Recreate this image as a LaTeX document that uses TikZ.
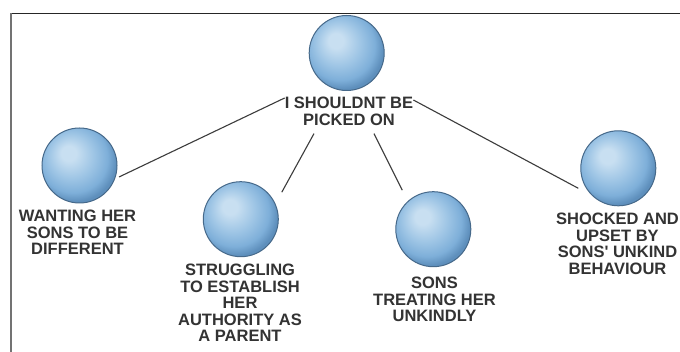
\documentclass[tikz,border=0pt]{standalone}
\usepackage{fontspec}
\setmainfont{Liberation Sans}
\usetikzlibrary{calc}

% glossy blue ball used for every idea
\definecolor{ballhi}{HTML}{C8DFF1}
\definecolor{ballmid}{HTML}{9EC5E5}
\definecolor{ballbase}{HTML}{7EAFD9}
\definecolor{balledge}{HTML}{5E8FBC}
\definecolor{ballrim}{HTML}{46698A}
\definecolor{inkgray}{HTML}{333333}
\definecolor{wiregray}{HTML}{3C3C3C}
\pgfdeclareradialshading{glossball}{\pgfpoint{-8bp}{9bp}}{%
  color(0bp)=(ballhi); color(5bp)=(ballhi); color(15bp)=(ballmid);
  color(23bp)=(ballbase); color(28bp)=(balledge); color(50bp)=(balledge)}

\tikzset{
  ball/.style={circle, minimum size=75pt, inner sep=0pt, shade, shading=glossball,
    draw=ballrim, line width=1pt},
  caption/.style={anchor=north, inner sep=0pt, align=center, text=inkgray,
    font=\fontsize{16.5}{16.5}\selectfont\bfseries},
  wire/.style={draw=wiregray, line width=1.1pt},
}

\begin{document}
\begin{tikzpicture}[x=1pt, y=-1pt]
\useasboundingbox (0,0) rectangle (680,352);
\fill[white] (0,0) rectangle (680,352);

% frame edges
\draw[draw=black!85, line width=1.3pt] (10.5,13.5) -- (680,13.5);
\draw[draw=black!55, line width=1.6pt] (11,13.5) -- (11,352);

% ideas
\node[ball] (s0) at (346.7,53) {};
\node[ball] (s1) at (79.5,165.5) {};
\node[ball] (s2) at (240.8,219.2) {};
\node[ball] (s3) at (433.3,229.2) {};
\node[ball] (s4) at (618.3,168.3) {};

\node[caption] (l0) at (349,97) {I SHOULDNT BE\\PICKED ON};
\node[caption] (l1) at (77.5,210) {WANTING HER\\SONS TO BE\\DIFFERENT};
\node[caption] (l2) at (240,264) {STRUGGLING\\TO ESTABLISH\\HER\\AUTHORITY AS\\A PARENT};
\node[caption] (l3) at (434.5,277) {SONS\\TREATING HER\\UNKINDLY};
\node[caption] (l4) at (617.5,213) {SHOCKED AND\\UPSET BY\\SONS\textquotesingle\ UNKIND\\BEHAVIOUR};

% loose ends of the links, next to each ball
\coordinate (e1) at ($(s1.center)+(39.5,11.5)$);
\coordinate (e2) at ($(s2.center)+(41,-27)$);
\coordinate (e3) at ($(s3.center)+(-31,-39)$);
\coordinate (e4) at ($(s4.center)+(-40,20)$);

% links from the central statement
\draw[wire] ($(l0.north west)+(0,1)$) -- (e1);
\draw[wire] ($(l0.south)+(-35,8)$) -- (e2);
\draw[wire] ($(l0.south)+(25,8)$) -- (e3);
\draw[wire] ($(l0.north east)+(0,3)$) -- (e4);
\end{tikzpicture}
\end{document}
